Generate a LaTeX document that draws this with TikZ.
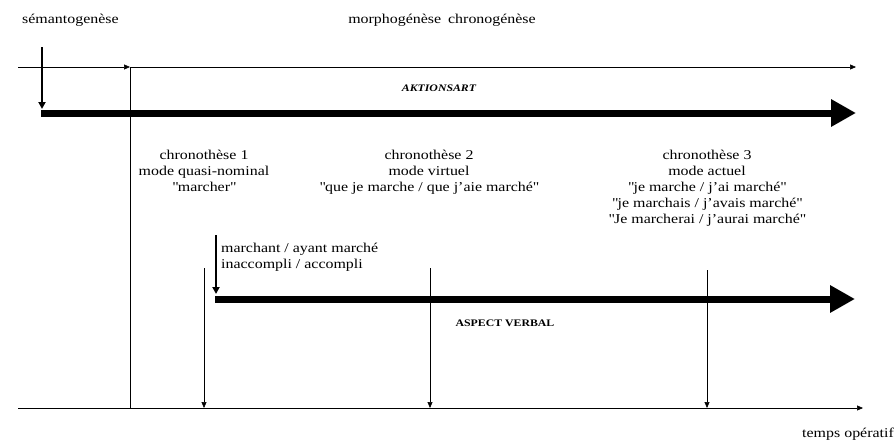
\documentclass[tikz,border=0pt]{standalone}
\usepackage{fontspec}
\setmainfont[FakeStretch=1.18]{Liberation Serif}
\usetikzlibrary{arrows.meta}
\newcommand{\qq}[1]{\textquotedbl#1\textquotedbl}

\begin{document}
\begin{tikzpicture}[x=1pt,y=-1pt,
  txt/.style={font=\fontsize{13.5}{16}\selectfont, inner sep=0pt, align=center},
  tag/.style={font=\fontsize{10}{12}\selectfont\bfseries, inner sep=0pt},
  thin/.style={line width=0.6pt},
  thinarrow/.style={line width=0.6pt, -{Triangle[length=6pt,width=5pt]}},
  droparrow/.style={line width=2pt, -{Triangle[length=7pt,width=7pt]}},
  bigarrow/.style={line width=7pt, -{Triangle[length=25pt,width=26pt]}}]
\useasboundingbox (0,0) rectangle (896,442);

% top labels
\node[txt, anchor=west] (semanto) at (22,20) {sémantogenèse};
\node[txt] (morpho) at (442,20) {morphogénèse\hspace{7pt}chronogénèse};

% upper level: thin line and Aktionsart arrow
\coordinate (tl0) at (18,67);
\coordinate (tl1) at (130,67);
\coordinate (tl2) at (856,67);
\draw[thinarrow] (tl0) -- (tl1);
\draw[thinarrow] (tl1) -- (tl2);

\coordinate (sa0) at (42,47);
\coordinate (sa1) at (42,109);
\draw[droparrow] (sa0) -- (sa1);

\coordinate (ak0) at (41,113);
\coordinate (ak1) at (856,113);
\draw[bigarrow] (ak0) -- (ak1);
\node[tag, font=\fontsize{10}{12}\selectfont\bfseries\itshape] (akt) at (439,88) {AKTIONSART};

% chronotheses
\node[txt, anchor=north] (ch1) at (204,150) {chronothèse 1\\mode quasi-nominal\\\qq{marcher}};
\node[txt, anchor=north] (ch2) at (429,150) {chronothèse 2\\mode virtuel\\\qq{que je marche / que j'aie marché}};
\node[txt, anchor=north] (ch3) at (707,150) {chronothèse 3\\mode actuel\\\qq{je marche / j'ai marché}\\\qq{je marchais / j'avais marché}\\\qq{Je marcherai / j'aurai marché}};

% lower level: verbal aspect
\coordinate (va0) at (216,235);
\coordinate (va1) at (216,294);
\draw[droparrow] (va0) -- (va1);
\node[txt, anchor=north west, align=left, font=\fontsize{13.5}{15.5}\selectfont] (mar) at (221,243) {marchant / ayant marché\\inaccompli / accompli};

\coordinate (as0) at (215,299);
\coordinate (as1) at (855,299);
\draw[bigarrow] (as0) -- (as1);
\node[tag] (asp) at (505,323) {ASPECT VERBAL};

% time axis
\coordinate (ax0) at (18,408);
\coordinate (ax1) at (863,408);
\draw[thinarrow] (ax0) -- (ax1);
\node[txt, anchor=east] (temps) at (894,434) {temps opératif};

% vertical markers
\coordinate (v0) at (130,408);
\draw[thin] (tl1) -- (v0);
\coordinate (p1a) at (204,268);
\coordinate (p1b) at (204,408);
\draw[thinarrow] (p1a) -- (p1b);
\coordinate (p2a) at (430,268);
\coordinate (p2b) at (430,408);
\draw[thinarrow] (p2a) -- (p2b);
\coordinate (p3a) at (707,270);
\coordinate (p3b) at (707,408);
\draw[thinarrow] (p3a) -- (p3b);
\end{tikzpicture}
\end{document}
